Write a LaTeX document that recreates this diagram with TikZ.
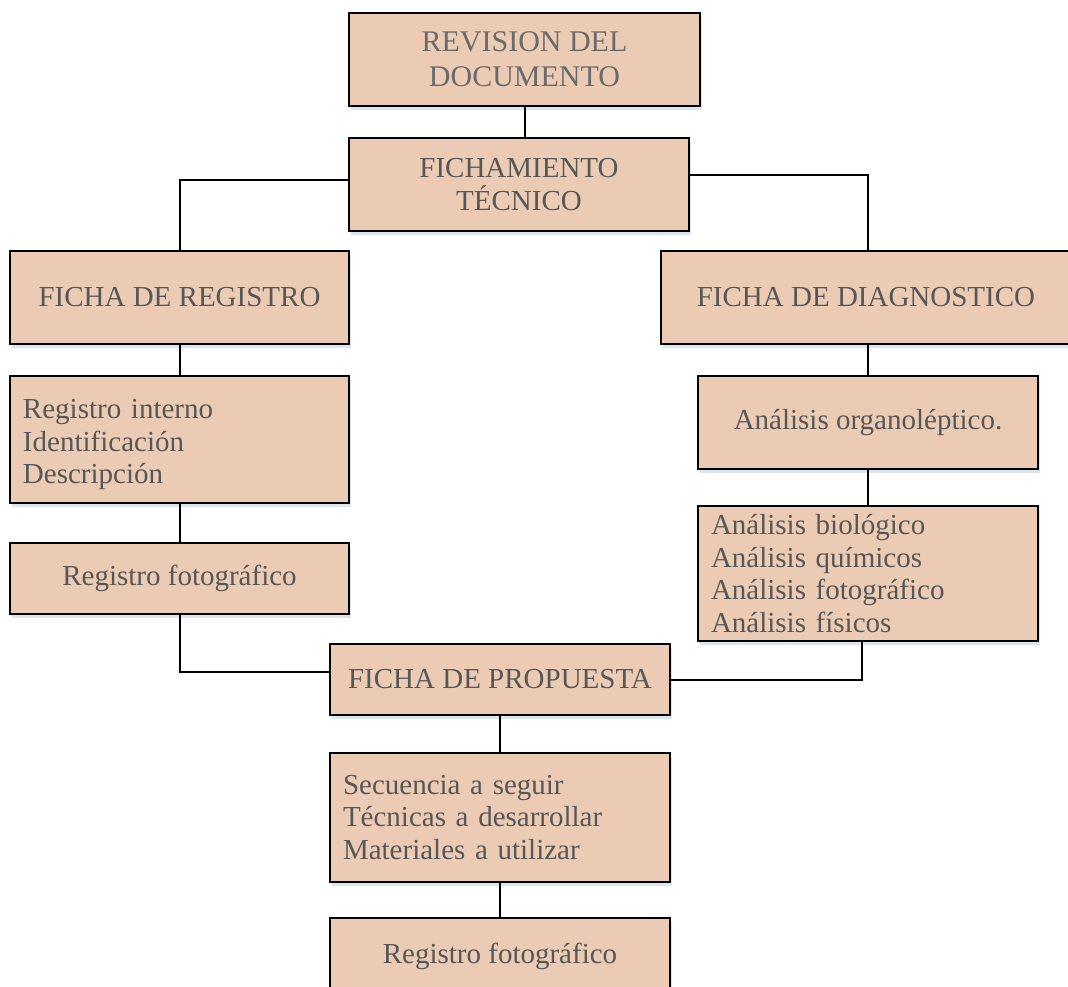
\documentclass[tikz,border=0pt]{standalone}
\usepackage{fontspec}
\setmainfont{Liberation Serif}
\usetikzlibrary{shadows}
\definecolor{boxfill}{HTML}{EBCBB4}
\definecolor{txt}{HTML}{575757}
\definecolor{txtlight}{HTML}{6A6A6A}
\definecolor{shade}{HTML}{9FB3D6}
\tikzset{
  box/.style={draw=black, line width=2pt, fill=boxfill, rectangle, inner sep=0pt,
    text=txt, font=\fontsize{29}{32.5}\selectfont, align=center,
    drop shadow={shadow xshift=2pt, shadow yshift=-4pt, fill=shade, opacity=0.35}},
  listbox/.style={box, align=left, text width=#1},
  conn/.style={draw=black, line width=2pt}
}
\begin{document}
\begin{tikzpicture}[x=1pt,y=-1pt]
\useasboundingbox (0,0) rectangle (1068,987);
\node[box, minimum width=351pt, minimum height=93pt, text=txtlight, font=\fontsize{30}{35}\selectfont] (rev) at (524.5,59.5) {REVISION DEL\\DOCUMENTO};
\node[box, minimum width=340pt, minimum height=93pt] (fich) at (519,184.5) {FICHAMIENTO\\TÉCNICO};
\node[box, minimum width=339pt, minimum height=93pt] (reg) at (179.5,297.5) {FICHA DE REGISTRO};
\node[box, minimum width=419pt, minimum height=93pt] (diag) at (870.5,297.5) {FICHA DE DIAGNOSTICO\hspace*{9pt}};
\node[listbox=313pt, minimum width=339pt, minimum height=127pt] (reglist) at (179.5,439.5) {\rule{0pt}{30pt}Registro interno\\Identificación\\Descripción};
\node[box, minimum width=339pt, minimum height=71pt] (regfoto) at (179.5,578.5) {Registro fotográfico};
\node[box, minimum width=340pt, minimum height=93pt] (org) at (868,422.5) {Análisis organoléptico.};
\node[listbox=314pt, minimum width=340pt, minimum height=135pt] (ana) at (868,573.5) {Análisis biológico\\Análisis químicos\\Análisis fotográfico\\Análisis físicos};
\node[box, minimum width=340pt, minimum height=71pt] (prop) at (500,679.5) {FICHA DE PROPUESTA};
\node[listbox=314pt, minimum width=340pt, minimum height=129pt] (sec) at (500,817.5) {Secuencia a seguir\\Técnicas a desarrollar\\Materiales a utilizar};
\node[box, minimum width=340pt, minimum height=76pt] (foto) at (500,956) {Registro fotográfico};

\draw[conn] (rev.south) -- (rev.south |- fich.north);
\draw[conn] ([yshift=4pt]fich.west) -| (reg.north);
\draw[conn] ([yshift=9pt]fich.east) -| (org.north |- diag.north);
\draw[conn] (org.north |- diag.south) -- (org.north);
\draw[conn] (org.south) -- (ana.north);
\draw[conn] (reg.south) -- (reglist.north);
\draw[conn] (reglist.south) -- (regfoto.north);
\draw[conn] (regfoto.south) |- ([yshift=8pt]prop.west);
\draw[conn] ([xshift=-6pt]ana.south) |- (prop.east);
\draw[conn] (prop.south) -- (sec.north);
\draw[conn] (sec.south) -- (foto.north);
\end{tikzpicture}
\end{document}
